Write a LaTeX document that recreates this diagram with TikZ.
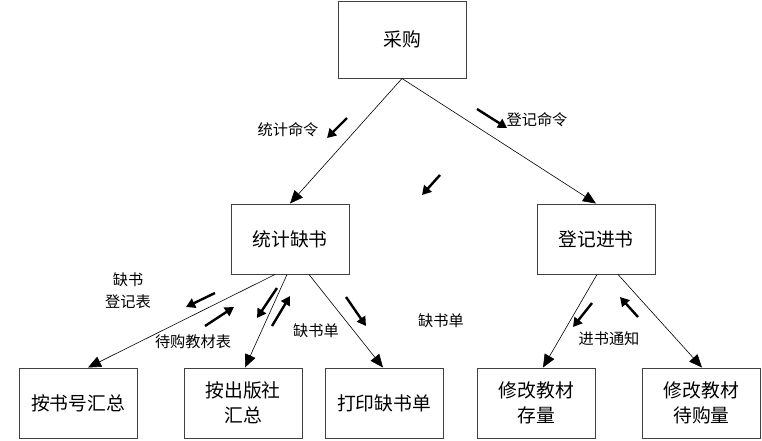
\documentclass[tikz,border=0pt]{standalone}
\usepackage{fontspec}
\newfontfamily\cjk{Noto Sans CJK SC}
\usetikzlibrary{arrows.meta}
\begin{document}
\begin{tikzpicture}[x=1pt,y=-1pt,
  box/.style={draw=black!75, line width=1pt, fill=white, minimum width=118pt, minimum height=70pt, inner sep=0pt, align=center, font=\cjk\fontsize{18.8}{25}\selectfont},
  conn/.style={line width=0.6pt, -{Triangle[length=13pt,width=11pt]}},
  flow/.style={line width=2.4pt, -{Triangle[length=9pt,width=10pt]}},
  lab/.style={font=\cjk\fontsize{15.2}{22}\selectfont, align=center, inner sep=0pt}]
\useasboundingbox (0,0) rectangle (762,440);
% boxes
\node[box, minimum width=128pt, minimum height=77pt] (cg) at (402,39.5) {采购};
\node[box] (tj) at (290,239) {统计缺书};
\node[box] (dj) at (596,239) {登记进书};
\node[box] (b1) at (78,403) {按书号汇总};
\node[box] (b2) at (243,403) {按出版社\\汇总};
\node[box] (b3) at (384,403) {打印缺书单};
\node[box] (b4) at (536.5,403) {修改教材\\存量};
\node[box] (b5) at (701.5,403) {修改教材\\待购量};
% connectors
\draw[conn] (cg.south) -- (tj.north);
\draw[conn] (cg.south) -- (dj.north);
\draw[conn] ([xshift=-15pt]tj.south) -- ([xshift=10pt]b1.north);
\draw[conn] ([xshift=-3pt]tj.south) -- ([xshift=2pt]b2.north);
\draw[conn] ([xshift=19pt]tj.south) -- ([xshift=-1pt]b3.north);
\draw[conn] ([xshift=1pt]dj.south) -- ([xshift=6.5pt]b4.north);
\draw[conn] ([xshift=22pt]dj.south) -- ([xshift=0.5pt]b5.north);
% data-flow markers
\coordinate (f1a) at (347,118); \coordinate (f1b) at (327,138);
\coordinate (f2a) at (477,109); \coordinate (f2b) at (507,128);
\coordinate (f3a) at (440,175); \coordinate (f3b) at (422,195);
\coordinate (f4a) at (215,293); \coordinate (f4b) at (186,307);
\coordinate (f5a) at (205,326); \coordinate (f5b) at (234,307);
\coordinate (f6a) at (277,288); \coordinate (f6b) at (257,318);
\coordinate (f7a) at (272,326); \coordinate (f7b) at (290,296);
\coordinate (f8a) at (346,297); \coordinate (f8b) at (366,326);
\coordinate (f9a) at (592,303); \coordinate (f9b) at (573,327);
\coordinate (f10a) at (638,317); \coordinate (f10b) at (620,297);
\foreach \i in {1,...,10} \draw[flow] (f\i a) -- (f\i b);
% labels
\node[lab] (l1) at (288,130) {统计命令};
\node[lab] (l2) at (537,120) {登记命令};
\node[lab] (l3) at (128,291) {缺书\\登记表};
\node[lab] (l4) at (193,342) {待购教材表};
\node[lab] (l5) at (316,331) {缺书单};
\node[lab] (l6) at (441,321) {缺书单};
\node[lab] (l7) at (609,339) {进书通知};
\end{tikzpicture}
\end{document}
